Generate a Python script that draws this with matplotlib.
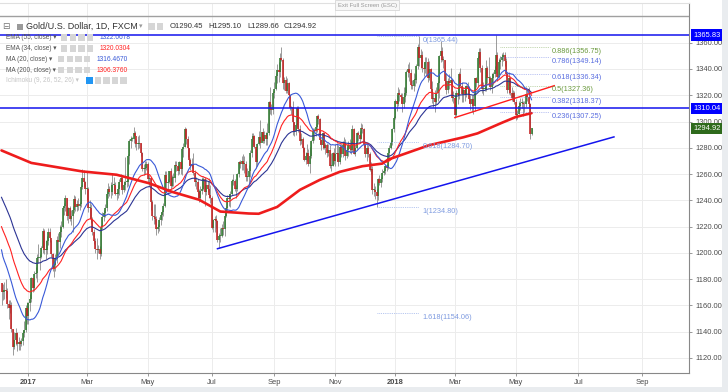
import matplotlib.pyplot as plt
import matplotlib.patches as mpatches
import numpy as np
import pandas as pd

plt.rcParams['font.family'] = ['Liberation Sans', 'DejaVu Sans']

# Gold / U.S. Dollar, daily, FXCM — 5 Dec 2016 .. 16 May 2018
START = '2016-12-05'
HOLIDAYS = ['2016-12-26', '2017-01-02', '2017-12-25', '2018-01-01']
FIRST_OPEN = 1177.0

CLOSE = [
    # Dec 2016
    1170, 1170, 1172, 1171, 1161, 1158, 1160, 1142, 1128, 1134, 1139, 1131, 1132, 1131, 1133, 1139, 1141, 1158, 1152,
    # Jan 2017
    1162, 1165, 1181, 1173, 1184, 1185, 1196, 1196, 1197, 1204, 1217, 1202, 1202, 1209, 1216, 1211, 1199, 1188, 1191, 1195, 1210,
    # Feb
    1208, 1216, 1220, 1234, 1236, 1242, 1228, 1234, 1226, 1228, 1233, 1241, 1235, 1237, 1236, 1237, 1250, 1257, 1254, 1249,
    # Mar
    1249, 1234, 1234, 1226, 1216, 1209, 1203, 1202, 1203, 1199, 1220, 1227, 1230, 1234, 1245, 1249, 1246, 1246, 1252, 1252, 1245, 1245, 1249,
    # Apr
    1254, 1257, 1248, 1252, 1254, 1254, 1274, 1285, 1287, 1287, 1291, 1289, 1283, 1283, 1284, 1276, 1264, 1264, 1265, 1268,
    # May
    1256, 1257, 1239, 1228, 1227, 1226, 1218, 1220, 1225, 1229, 1231, 1236, 1259, 1253, 1254, 1262, 1251, 1257, 1257, 1267, 1266, 1262, 1269,
    # Jun
    1264, 1279, 1281, 1294, 1287, 1280, 1271, 1266, 1268, 1261, 1254, 1254, 1246, 1242, 1247, 1249, 1256, 1246, 1252, 1249, 1244, 1242,
    # Jul
    1219, 1225, 1226, 1224, 1210, 1213, 1213, 1219, 1218, 1228, 1234, 1242, 1241, 1245, 1255, 1255, 1249, 1249, 1260, 1269, 1268,
    # Aug
    1270, 1268, 1268, 1258, 1258, 1262, 1276, 1287, 1289, 1281, 1269, 1283, 1288, 1284, 1292, 1285, 1290, 1287, 1291, 1315, 1310, 1309, 1322,
    # Sep
    1325, 1335, 1339, 1338, 1348, 1347, 1329, 1332, 1323, 1329, 1320, 1310, 1311, 1300, 1293, 1297, 1310, 1294, 1285, 1287, 1280,
    # Oct
    1271, 1274, 1276, 1268, 1274, 1285, 1293, 1293, 1296, 1304, 1302, 1286, 1282, 1291, 1280, 1282, 1276, 1278, 1266, 1266, 1276, 1270,
    # Nov
    1275, 1276, 1269, 1281, 1275, 1282, 1284, 1274, 1278, 1282, 1279, 1278, 1294, 1275, 1280, 1291, 1290, 1287, 1295, 1294, 1282, 1275,
    # Dec
    1280, 1275, 1263, 1264, 1248, 1248, 1246, 1243, 1256, 1253, 1256, 1261, 1262, 1266, 1265, 1276, 1280, 1284, 1294, 1303,
    # Jan 2018
    1316, 1313, 1322, 1320, 1319, 1313, 1319, 1322, 1338, 1340, 1337, 1328, 1327, 1332, 1332, 1342, 1357, 1348, 1351, 1341, 1340, 1345,
    # Feb
    1345, 1333, 1340, 1325, 1317, 1318, 1315, 1322, 1329, 1350, 1354, 1347, 1347, 1331, 1324, 1331, 1329, 1332, 1318, 1318,
    # Mar
    1305, 1322, 1320, 1336, 1327, 1321, 1324, 1321, 1327, 1325, 1317, 1313, 1317, 1312, 1333, 1329, 1348, 1353, 1341, 1325, 1325, 1325,
    # Apr
    1341, 1333, 1333, 1326, 1333, 1336, 1339, 1351, 1334, 1345, 1347, 1349, 1351, 1346, 1336, 1324, 1333, 1322, 1318, 1322, 1315,
    # May
    1305, 1306, 1312, 1314, 1314, 1313, 1313, 1321, 1319, 1313, 1290.45, 1294.92,
]

HIGH = [
    1177, 1176, 1178, 1180, 1173, 1164, 1164, 1163, 1142, 1140, 1143, 1140, 1136, 1134, 1135, 1141, 1148, 1160, 1163,
    1163, 1169, 1182, 1181, 1186, 1189, 1199, 1207, 1199, 1205, 1219, 1218, 1210, 1213, 1219, 1219, 1210, 1200, 1194, 1199, 1213,
    1215, 1221, 1224, 1236, 1238, 1244, 1242, 1235, 1236, 1233, 1236, 1244, 1243, 1240, 1242, 1239, 1252, 1264, 1263, 1255,
    1262, 1250, 1240, 1237, 1227, 1218, 1211, 1211, 1206, 1205, 1221, 1231, 1233, 1237, 1247, 1253, 1251, 1254, 1261, 1258, 1254, 1246, 1252,
    1256, 1260, 1259, 1255, 1273, 1256, 1275, 1287, 1289, 1288, 1296, 1293, 1287, 1289, 1290, 1284, 1277, 1268, 1270, 1270,
    1269, 1259, 1258, 1240, 1237, 1237, 1228, 1222, 1227, 1231, 1233, 1238, 1262, 1262, 1256, 1262, 1265, 1259, 1261, 1270, 1270, 1267, 1270,
    1271, 1281, 1284, 1296, 1295, 1289, 1280, 1272, 1272, 1276, 1263, 1258, 1256, 1249, 1251, 1258, 1258, 1258, 1256, 1255, 1257, 1252,
    1243, 1226, 1228, 1229, 1225, 1215, 1219, 1222, 1224, 1230, 1236, 1244, 1245, 1247, 1256, 1260, 1256, 1252, 1261, 1270, 1271,
    1274, 1275, 1274, 1270, 1265, 1267, 1278, 1291, 1291, 1290, 1281, 1284, 1293, 1301, 1292, 1295, 1293, 1292, 1299, 1316, 1326, 1313, 1323,
    1330, 1337, 1344, 1345, 1352, 1357, 1348, 1334, 1335, 1333, 1330, 1321, 1312, 1316, 1300, 1298, 1312, 1312, 1297, 1291, 1288,
    1281, 1277, 1283, 1279, 1281, 1286, 1295, 1295, 1298, 1305, 1306, 1303, 1287, 1292, 1291, 1284, 1284, 1283, 1282, 1276, 1277, 1280,
    1283, 1284, 1282, 1283, 1283, 1285, 1288, 1287, 1281, 1285, 1287, 1285, 1297, 1295, 1282, 1292, 1293, 1293, 1299, 1298, 1295, 1285,
    1283, 1282, 1277, 1269, 1266, 1253, 1251, 1249, 1257, 1259, 1258, 1264, 1265, 1267, 1268, 1276, 1282, 1286, 1295, 1304,
    1317, 1320, 1326, 1325, 1322, 1322, 1326, 1326, 1339, 1344, 1345, 1340, 1332, 1337, 1336, 1344, 1359, 1365.4, 1355, 1354, 1345, 1349,
    1349, 1348, 1346, 1341, 1331, 1322, 1324, 1326, 1331, 1351, 1361, 1357, 1350, 1347, 1337, 1333, 1336, 1341, 1332, 1323,
    1320, 1324, 1326, 1338, 1341, 1330, 1326, 1327, 1328, 1330, 1327, 1320, 1320, 1320, 1333, 1334, 1350, 1356, 1356, 1343, 1330, 1327,
    1347, 1342, 1349, 1335, 1337, 1338, 1342, 1365.8, 1353, 1348, 1350, 1352, 1353, 1353, 1348, 1338, 1338, 1333, 1326, 1324, 1323,
    1317, 1309, 1316, 1318, 1318, 1316, 1316, 1326, 1325, 1326, 1314, 1295.10,
]

LOW = [
    1160, 1164, 1165, 1166, 1158, 1150, 1154, 1140, 1122, 1127, 1130, 1125, 1126, 1126, 1129, 1130, 1136, 1140, 1146,
    1146, 1156, 1163, 1170, 1171, 1181, 1178, 1192, 1187, 1196, 1200, 1199, 1195, 1199, 1206, 1208, 1197, 1186, 1182, 1186, 1192,
    1199, 1204, 1212, 1219, 1229, 1232, 1225, 1223, 1224, 1221, 1216, 1230, 1232, 1232, 1233, 1233, 1235, 1249, 1250, 1245,
    1240, 1231, 1226, 1223, 1214, 1207, 1200, 1195, 1200, 1195, 1198, 1218, 1224, 1227, 1232, 1242, 1243, 1242, 1244, 1248, 1244, 1240, 1242,
    1244, 1250, 1245, 1246, 1248, 1250, 1251, 1268, 1280, 1285, 1284, 1281, 1278, 1279, 1280, 1274, 1262, 1259, 1260, 1263,
    1254, 1251, 1233, 1225, 1222, 1222, 1214, 1215, 1217, 1221, 1225, 1228, 1235, 1246, 1246, 1253, 1249, 1250, 1251, 1254, 1262, 1259, 1260,
    1260, 1259, 1273, 1281, 1283, 1273, 1267, 1263, 1265, 1259, 1251, 1249, 1241, 1239, 1241, 1245, 1248, 1236, 1244, 1246, 1242, 1238,
    1218, 1216, 1216, 1219, 1208, 1204, 1208, 1212, 1214, 1213, 1227, 1232, 1236, 1235, 1244, 1252, 1247, 1242, 1247, 1258, 1265,
    1263, 1263, 1261, 1255, 1255, 1252, 1258, 1273, 1282, 1280, 1265, 1266, 1282, 1280, 1285, 1284, 1284, 1282, 1282, 1290, 1306, 1305, 1306,
    1318, 1324, 1329, 1330, 1334, 1346, 1325, 1324, 1322, 1322, 1318, 1309, 1306, 1290, 1289, 1290, 1296, 1292, 1282, 1283, 1277,
    1270, 1268, 1270, 1266, 1261, 1272, 1284, 1286, 1289, 1292, 1298, 1283, 1278, 1279, 1279, 1275, 1273, 1274, 1265, 1262, 1266, 1268,
    1266, 1270, 1266, 1268, 1273, 1273, 1281, 1271, 1272, 1274, 1276, 1275, 1277, 1275, 1274, 1279, 1285, 1284, 1287, 1291, 1281, 1273,
    1270, 1273, 1262, 1260, 1245, 1243, 1241, 1234.8, 1240, 1252, 1250, 1254, 1259, 1260, 1262, 1264, 1272, 1279, 1282, 1292,
    1302, 1308, 1312, 1316, 1314, 1307, 1310, 1315, 1320, 1334, 1331, 1325, 1325, 1323, 1327, 1329, 1340, 1342, 1341, 1338, 1335, 1337,
    1335, 1330, 1332, 1323, 1314, 1311, 1307, 1313, 1316, 1318, 1345, 1346, 1341, 1326, 1321, 1322, 1325, 1327, 1316, 1314,
    1303, 1304, 1313, 1317, 1326, 1315, 1315, 1316, 1319, 1321, 1314, 1309, 1307, 1306, 1308, 1326, 1327, 1344, 1338, 1322, 1320, 1323,
    1323, 1329, 1328, 1324, 1322, 1328, 1334, 1337, 1331, 1333, 1340, 1342, 1346, 1342, 1334, 1322, 1321, 1320, 1316, 1316, 1313,
    1301, 1302, 1306, 1309, 1310, 1304, 1307, 1311, 1316, 1311, 1287, 1289.66,
]

# closes before the first visible bar (feed the MA(20) only)
PRE_CLOSE = [1274, 1236, 1226, 1222, 1226, 1226, 1216, 1209, 1213, 1212,
             1188, 1183, 1179, 1192, 1188, 1173, 1171, 1177, 1165]
EMA55_SEED = 1245.0
EMA34_SEED = 1223.0

# MA(200)
MA200_DATES = ['2016-12-05', '2017-01-05', '2017-02-24', '2017-03-30', '2017-05-02',
               '2017-05-24', '2017-06-20', '2017-07-11', '2017-08-08', '2017-08-17',
               '2017-09-05', '2017-09-27', '2017-10-17', '2017-11-06', '2017-11-28',
               '2017-12-18', '2017-12-22', '2018-02-05', '2018-03-09', '2018-03-23',
               '2018-04-17', '2018-05-01', '2018-05-16']
MA200_VALUES = [1278, 1268.5, 1262, 1259.5, 1253, 1246.5, 1240.5, 1231.5, 1230, 1229.8,
                1235, 1248, 1255.6, 1261.7, 1266, 1268, 1271, 1282, 1288, 1291,
                1299, 1303.5, 1306.4]

H_LEVELS = [1365.83, 1310.04]
LAST_PRICE = 1294.92

FIB_A_LEVELS = ['0', '0.618', '1', '1.618']
FIB_A_PRICES = [1365.44, 1284.70, 1234.80, 1154.06]
FIB_A_DATES = ['2017-12-12', '2018-01-25']
FIB_B_LEVELS = ['0.886', '0.786', '0.618', '0.5', '0.382', '0.236']
FIB_B_PRICES = [1356.75, 1349.14, 1336.34, 1327.36, 1318.37, 1307.25]
FIB_B_COLORS = ['#6b9a3e', '#5a6ee0', '#5a6ee0', '#6b9a3e', '#5a6ee0', '#5a6ee0']
FIB_B_DATES = ['2018-04-16', '2018-06-04']

BLUE_TREND_DATES = ['2017-07-07', '2018-08-06']
BLUE_TREND_PRICES = [1203.2, 1288.3]
RED_TREND_DATES = ['2018-03-01', '2018-06-07']
RED_TREND_PRICES = [1303.0, 1327.3]

OHLC_TEXT = ['O1290.45', 'H1295.10', 'L1289.66', 'C1294.92']
LEGEND_NAMES = ['EMA (55, close)', 'EMA (34, close)', 'MA (20, close)', 'MA (200, close)']
LEGEND_VALUES = ['1322.0678', '1320.0304', '1316.4670', '1306.3760']

C_EMA55 = '#2c3494'
C_EMA34 = '#ff2222'
C_MA20 = '#3a5ad8'
C_MA200 = '#ee1c1c'
C_BLUE = '#1414ee'

W, H = 728, 392


def fx(x):
    return x / W


def fy(y):
    return 1 - y / H


def icons(fig, x, y, n, first_blue=False):
    for k in range(n):
        fc = '#2196f3' if (first_blue and k == 0) else '#d6d6d6'
        fig.patches.append(mpatches.Rectangle((fx(x + k * 8.5), fy(y + 3)), fx(6.5), 6.5 / H,
                                              transform=fig.transFigure, fc=fc, ec='none'))


def main():
    days = pd.bdate_range(START, '2018-10-31')
    days = days[~days.isin(pd.to_datetime(HOLIDAYS))]
    pos = pd.Series(np.arange(len(days)), index=days)

    c = np.array(CLOSE, dtype=float)
    hi = np.array(HIGH, dtype=float)
    lo = np.array(LOW, dtype=float)
    o = np.r_[FIRST_OPEN, c[:-1]]
    x = np.arange(len(c))

    fig = plt.figure(figsize=(7.28, 3.92), dpi=100)
    fig.patch.set_facecolor('white')
    ax = fig.add_axes([0, fy(373), fx(689), (373 - 3) / H])
    ax.set_facecolor('white')

    scale = 1.3136
    ax.set_ylim(1340 - 304 / scale, 1340 + 66 / scale)
    ax.set_xlim((0 - 1.5) / 1.421, (689 - 1.5) / 1.421)

    # candles
    up = c >= o
    bot = np.minimum(o, c)
    top = np.maximum(np.maximum(o, c), bot + 0.7)
    ax.vlines(x, lo, hi, color='#8a8a8a', lw=0.6, zorder=2)
    ax.vlines(x[up], bot[up], top[up], color='#2f7a2f', lw=1.15, zorder=3)
    ax.vlines(x[~up], bot[~up], top[~up], color='#c42020', lw=1.15, zorder=3)

    # moving averages
    ema55 = pd.Series([EMA55_SEED] + CLOSE).ewm(span=55, adjust=False).mean().values[1:]
    ema34 = pd.Series([EMA34_SEED] + CLOSE).ewm(span=34, adjust=False).mean().values[1:]
    ma20 = pd.Series(PRE_CLOSE + CLOSE).rolling(20).mean().values[len(PRE_CLOSE):]
    ma200_x = pos[pd.to_datetime(MA200_DATES)].values
    ax.plot(x, ema55, color=C_EMA55, lw=0.8, zorder=4)
    ax.plot(x, ema34, color=C_EMA34, lw=0.8, zorder=4)
    ax.plot(x, ma20, color=C_MA20, lw=0.8, zorder=4)
    ax.plot(ma200_x, MA200_VALUES, color=C_MA200, lw=1.9, zorder=5, solid_capstyle='round')

    # horizontal levels and trend lines
    for lv in H_LEVELS:
        ax.axhline(lv, color=C_BLUE, lw=1.1, zorder=6)
    ax.axhline(1380, color='#a0a0a0', lw=1.0, zorder=6)
    bx = pos[pd.to_datetime(BLUE_TREND_DATES)].values
    ax.plot(bx, BLUE_TREND_PRICES, color=C_BLUE, lw=1.1, zorder=6)
    rx = pos[pd.to_datetime(RED_TREND_DATES)].values
    ax.plot(rx, RED_TREND_PRICES, color='#ff1c1c', lw=1.0, zorder=6)

    # fibonacci A
    ax_a = pos[pd.to_datetime(FIB_A_DATES)].values
    for lvl, p in zip(FIB_A_LEVELS, FIB_A_PRICES):
        ax.plot(ax_a, [p, p], color='#9fb4ea', lw=0.6, ls=(0, (1, 1.2)), zorder=5)
        ax.annotate(f'{lvl}({p:.2f})', (ax_a[1] + 2.5, p), xytext=(0, -3.2),
                    textcoords='offset points', fontsize=5.3, color='#7f9be0',
                    va='center', ha='left', zorder=7)
    # fibonacci B
    bx2 = pos[pd.to_datetime(FIB_B_DATES)].values
    for lvl, p, col in zip(FIB_B_LEVELS, FIB_B_PRICES, FIB_B_COLORS):
        ax.plot(bx2, [p, p], color=col, alpha=0.55, lw=0.6, ls=(0, (1, 1.2)), zorder=5)
        ax.annotate(f'{lvl}({p:.2f})', (bx2[1] + 1.5, p), xytext=(0, -3.0),
                    textcoords='offset points', fontsize=5.3, color=col,
                    va='center', ha='left', zorder=7)

    # axes styling
    ax.yaxis.tick_right()
    yt = list(range(1120, 1361, 20))
    ax.set_yticks(yt)
    ax.set_yticklabels([f'{v:.2f}' for v in yt])
    month_starts = ['2017-01', '2017-03', '2017-05', '2017-07', '2017-09', '2017-11',
                    '2018-01', '2018-03', '2018-05', '2018-07', '2018-09']
    xt, xl = [], []
    for m in month_starts:
        d = days[days.strftime('%Y-%m') == m][0]
        xt.append(pos[d])
        xl.append(str(d.year) if d.month == 1 else d.strftime('%b'))
    ax.set_xticks(xt)
    ax.set_xticklabels(xl)
    for t in ax.get_xticklabels():
        if t.get_text().isdigit():
            t.set_fontweight('bold')
    ax.tick_params(axis='both', length=2.5, width=0.6, color='#888888',
                   labelsize=5.4, labelcolor='#4a4a4a', pad=2)
    ax.grid(color='#ececec', lw=0.7)
    ax.set_axisbelow(True)
    ax.spines['left'].set_visible(False)
    ax.spines['top'].set_color('#e0e0e0')
    ax.spines['right'].set_color('#888888')
    ax.spines['bottom'].set_color('#888888')
    ax.spines['right'].set_linewidth(0.8)
    ax.spines['bottom'].set_linewidth(0.8)

    # right price labels
    for p, col in [(H_LEVELS[0], '#0000ff'), (H_LEVELS[1], '#0000ff'), (LAST_PRICE, '#2e6a1c')]:
        ax.text(1.0 + 4 / 689, p, f'{p:.2f}', transform=ax.get_yaxis_transform(),
                ha='left', va='center', fontsize=5.4, color='white', clip_on=False, zorder=10,
                bbox=dict(boxstyle='square,pad=0.28', fc=col, ec='none'))

    # grey frame strips
    fig.patches.append(mpatches.Rectangle((fx(722), 0), fx(6), 1, transform=fig.transFigure,
                                          fc='#e9ecef', ec='none'))
    fig.patches.append(mpatches.Rectangle((0, 0), 1, 5.5 / H, transform=fig.transFigure,
                                          fc='#e9ecef', ec='none'))

    # exit full screen hint
    fig.text(fx(367), fy(5), 'Exit Full Screen (ESC)', fontsize=4.2, color='#999999',
             ha='center', va='center',
             bbox=dict(boxstyle='square,pad=0.35', fc='#f7f7f7', ec='#d0d0d0', lw=0.5))

    # header
    fig.text(fx(2), fy(26.5), '⊟', fontsize=6.5, color='#777777', va='center')
    fig.patches.append(mpatches.Rectangle((fx(17), fy(30)), fx(6), 6 / H,
                                          transform=fig.transFigure, fc='#9a9a9a', ec='none'))
    fig.text(fx(26), fy(26.5), 'Gold/U.S. Dollar, 1D, FXCM', fontsize=6.5, color='#333333',
             va='center')
    fig.text(fx(139), fy(26.5), '▾', fontsize=5, color='#999999', va='center')
    icons(fig, 148, 26.5, 2)
    for xx, s in zip([170, 208, 247, 284], OHLC_TEXT):
        fig.text(fx(xx), fy(26.5), s, fontsize=5.5, color='#333333', va='center')

    # indicator legend
    vcols = [C_MA20, C_EMA34, C_MA20, C_EMA34]
    for i, (name, val, vc) in enumerate(zip(LEGEND_NAMES, LEGEND_VALUES, vcols)):
        y = 37.7 + 10.8 * i
        ema = name.startswith('EMA')
        fig.text(fx(6), fy(y), name + ' ▾', fontsize=4.7, color='#555555', va='center')
        icons(fig, 61 if ema else 58, y, 4)
        fig.text(fx(100 if ema else 97), fy(y), val, fontsize=4.8, color=vc, va='center')
    y = 37.7 + 10.8 * 4
    fig.text(fx(6), fy(y), 'Ichimoku (9, 26, 52, 26) ▾', fontsize=4.7, color='#c4c4c4',
             va='center')
    icons(fig, 86, y, 5, first_blue=True)

    fig.savefig('out.png', dpi=100, facecolor='white')


if __name__ == '__main__':
    main()
